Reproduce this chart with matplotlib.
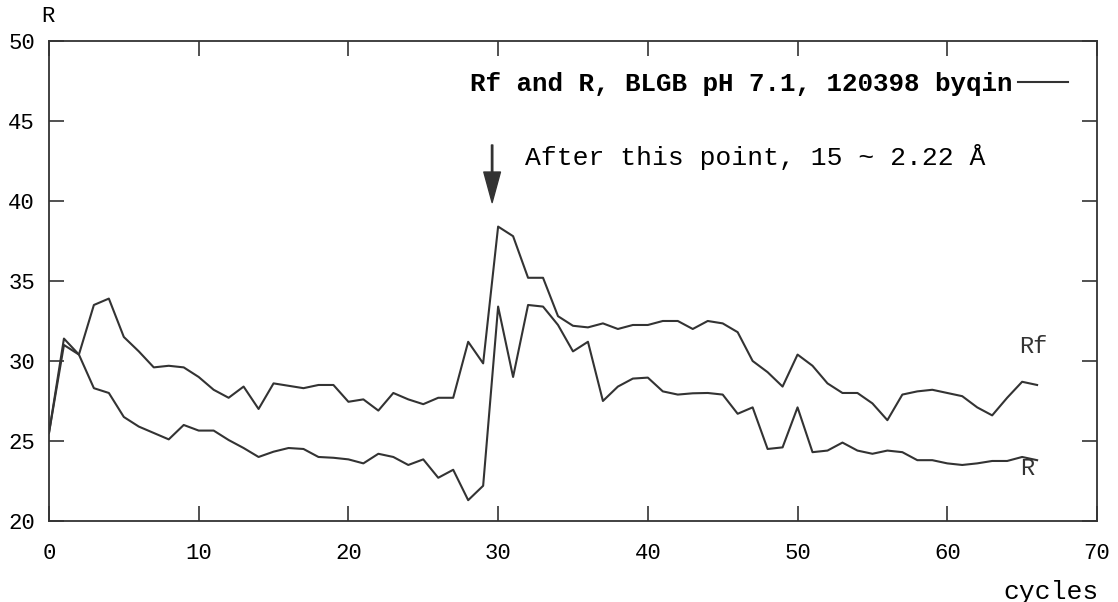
import matplotlib
matplotlib.use("agg")
import matplotlib.pyplot as plt
from matplotlib import rcParams
import numpy as np

rcParams['font.family'] = "Liberation Mono"
rcParams['xtick.labelsize'] = 16
rcParams['ytick.labelsize'] = 16

# cycle number and the two R-factors
cycles = np.arange(0, 67)
rf_vals = [25.5, 31.0, 30.4, 33.5, 33.9, 31.5, 30.6, 29.6, 29.7, 29.6,
           29.0, 28.2, 27.7, 28.4, 27.0, 28.6, 28.45, 28.3, 28.5, 28.5,
           27.45, 27.6, 26.9, 28.0, 27.6, 27.3, 27.7, 27.7, 31.2, 29.85,
           38.4, 37.8, 35.2, 35.2, 32.8, 32.2, 32.1, 32.35, 32.0, 32.25,
           32.25, 32.5, 32.5, 32.0, 32.5, 32.35, 31.8, 30.0, 29.3, 28.4,
           30.4, 29.7, 28.6, 28.0, 28.0, 27.35, 26.3, 27.9, 28.1, 28.2,
           28.0, 27.8, 27.1, 26.6, 27.7, 28.7, 28.5]
r_vals = [25.5, 31.4, 30.4, 28.3, 28.0, 26.5, 25.9, 25.5, 25.1, 26.0,
          25.65, 25.65, 25.06, 24.56, 24.0, 24.33, 24.56, 24.5, 24.0, 23.95,
          23.85, 23.6, 24.2, 24.0, 23.5, 23.85, 22.7, 23.2, 21.3, 22.2,
          33.4, 29.0, 33.5, 33.4, 32.25, 30.6, 31.2, 27.5, 28.4, 28.9,
          28.96, 28.1, 27.9, 27.98, 28.0, 27.9, 26.7, 27.1, 24.5, 24.6,
          27.1, 24.3, 24.4, 24.9, 24.4, 24.2, 24.4, 24.3, 23.8, 23.8,
          23.6, 23.5, 23.6, 23.75, 23.75, 24.0, 23.8]

xticks = [0, 10, 20, 30, 40, 50, 60, 70]
yticks = [20, 25, 30, 35, 40, 45, 50]
legend_text = "Rf and R, BLGB pH 7.1, 120398 byqin"
note_text = "After this point, 15 ~ 2.22 \u00c5"

line_col = "#333333"

fig = plt.figure(figsize=(11.18, 6.02), dpi=100)
ax = fig.add_axes([0.0438, 0.1346, 0.9374, 0.7973])

l1, = ax.plot(cycles, rf_vals, color=line_col, lw=1.5, label=legend_text)
ax.plot(cycles, r_vals, color=line_col, lw=1.5)

ax.set_xlim(0, 70)
ax.set_ylim(20, 50)
ax.set_xticks(xticks)
ax.set_yticks(yticks)
ax.tick_params(direction='in', length=11, width=1.2, color=line_col,
               top=True, right=True)
ax.tick_params(axis='x', pad=16)
ax.tick_params(axis='y', pad=10)
for s in ax.spines.values():
    s.set_linewidth(1.3)
    s.set_color(line_col)

leg = ax.legend(handles=[l1], loc='upper right', bbox_to_anchor=(0.9723, 0.936),
                frameon=False, markerfirst=False, handlelength=1.95,
                handletextpad=0.2, borderpad=0, borderaxespad=0,
                prop={'size': 18.6, 'weight': 'bold'})

# arrow marking the resolution change
ax.annotate("", xy=(29.6, 39.9), xytext=(29.6, 43.5),
            arrowprops=dict(width=1.0, headwidth=12, headlength=22,
                            color=line_col, shrink=0))
ax.text(31.8, 42.75, note_text, fontsize=19, va='center', ha='left')

ax.text(64.8, 30.9, "Rf", fontsize=17, va='center', ha='left', color=line_col)
ax.text(64.85, 23.3, "R", fontsize=17, va='center', ha='left', color=line_col)

fig.text(48 / 1118, 1 - 17 / 602, "R", fontsize=16, ha='center', va='center')
fig.text(1051 / 1118, 1 - 592 / 602, "cycles", fontsize=19, ha='center', va='center')

fig.savefig("out.png", dpi=100)
